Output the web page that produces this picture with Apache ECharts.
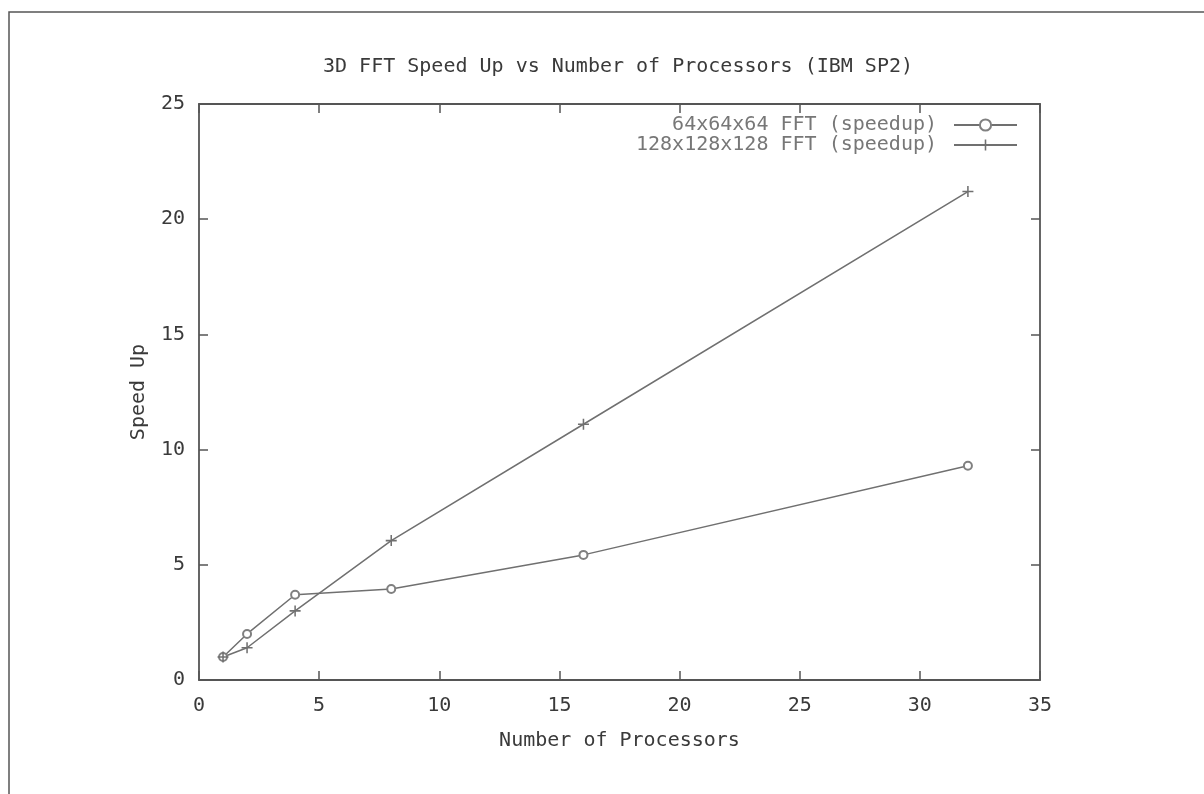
<!DOCTYPE html>
<html>
<head>
<meta charset="utf-8">
<script src="https://cdn.jsdelivr.net/npm/echarts@6/dist/echarts.min.js"></script>
<style>
html,body{margin:0;padding:0;background:#fff;}
#chart{width:1204px;height:794px;}
</style>
</head>
<body>
<div id="chart"></div>
<script>
var processors = [1, 2, 4, 8, 16, 32];
var speedup64 = [1.0, 2.0, 3.7, 3.95, 5.43, 9.3];
var speedup128 = [1.0, 1.4, 3.0, 6.05, 11.1, 21.2];
var seriesNames = ['64x64x64 FFT (speedup)', '128x128x128 FFT (speedup)'];
var titleText = '3D FFT Speed Up vs Number of Processors (IBM SP2)';
var xName = 'Number of Processors';
var yName = 'Speed Up';

var FONT = 'DejaVu Sans Mono';
var AX = '#555';
var LINE = '#707070';
var plusPath = 'path://M4.3,0H5.7V4.3H10V5.7H5.7V10H4.3V5.7H0V4.3H4.3Z';

function pairs(xs, ys) { return xs.map(function (x, i) { return [x, ys[i]]; }); }

var chart = echarts.init(document.getElementById('chart'));
var baseAxis = {
  type: 'value', min: 0, interval: 5,
  axisLine: { show: true, onZero: false, lineStyle: { color: AX, width: 1.8 } },
  axisTick: { show: true, inside: true, length: 9, lineStyle: { color: AX, width: 1.5 } },
  splitLine: { show: false }
};
chart.setOption({
  backgroundColor: '#fff',
  animation: false,
  title: {
    text: titleText, left: 323, top: 57, padding: 0,
    textStyle: { fontFamily: FONT, fontSize: 20, lineHeight: 20, fontWeight: 'normal', color: '#3a3a3a' }
  },
  legend: {
    orient: 'vertical', right: 186, top: 115, align: 'right', padding: 0,
    itemWidth: 63, itemHeight: 14, itemGap: 0,
    textStyle: { fontFamily: FONT, fontSize: 20, lineHeight: 18, color: '#777', padding: [0, 12, 0, 0] },
    data: seriesNames
  },
  grid: { left: 199, top: 104, right: 164, bottom: 114 },
  xAxis: [
    Object.assign({}, baseAxis, {
      max: 35, position: 'bottom',
      name: xName, nameLocation: 'middle', nameGap: 51,
      nameTextStyle: { fontFamily: FONT, fontSize: 20, color: '#3a3a3a' },
      axisLabel: { margin: 16, fontFamily: FONT, fontSize: 20, color: '#3a3a3a' }
    }),
    Object.assign({}, baseAxis, { max: 35, position: 'top', axisLabel: { show: false } })
  ],
  yAxis: [
    Object.assign({}, baseAxis, {
      max: 25, position: 'left',
      name: yName, nameLocation: 'middle', nameGap: 50, nameRotate: 90,
      nameTextStyle: { fontFamily: FONT, fontSize: 20, color: '#3a3a3a' },
      axisLabel: { margin: 14, fontFamily: FONT, fontSize: 20, color: '#3a3a3a' }
    }),
    Object.assign({}, baseAxis, { max: 25, position: 'right', axisLabel: { show: false } })
  ],
  graphic: [{
    type: 'rect', shape: { x: 9, y: 12, width: 1400, height: 1000 },
    style: { fill: 'none', stroke: '#555', lineWidth: 1.5 }, silent: true
  }],
  series: [
    {
      name: seriesNames[0], type: 'line', xAxisIndex: 0, yAxisIndex: 0,
      data: pairs(processors, speedup64),
      symbol: 'emptyCircle', symbolSize: 8,
      lineStyle: { color: LINE, width: 1.5 },
      itemStyle: { color: '#808080', borderColor: '#808080', borderWidth: 2 }
    },
    {
      name: seriesNames[1], type: 'line', xAxisIndex: 0, yAxisIndex: 0,
      data: pairs(processors, speedup128),
      symbol: plusPath, symbolSize: 11,
      lineStyle: { color: LINE, width: 1.5 },
      itemStyle: { color: '#707070' }
    }
  ]
});
</script>
</body>
</html>
